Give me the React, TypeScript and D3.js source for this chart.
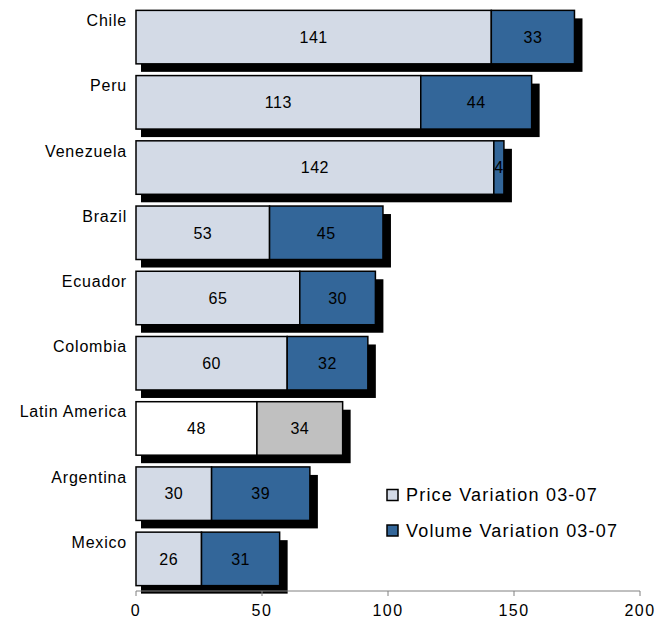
import React from 'react';
import * as d3 from 'd3';

const countries = ['Chile', 'Peru', 'Venezuela', 'Brazil', 'Ecuador', 'Colombia', 'Latin America', 'Argentina', 'Mexico'];
const priceVariation = [141, 113, 142, 53, 65, 60, 48, 30, 26];
const volumeVariation = [33, 44, 4, 45, 30, 32, 34, 39, 31];
const xTicks = [0, 50, 100, 150, 200];
const legendLabels = ['Price Variation 03-07', 'Volume Variation 03-07'];

const W = 664;
const H = 621;
const FONT = '"Liberation Sans", Arial, sans-serif';
const LIGHT = '#D3DAE6';
const DARK = '#336699';

const App = () => {
  const x = d3.scaleLinear().domain([0, 200]).range([136, 640]);
  const y = d3.scaleBand<string>()
    .domain(countries)
    .range([4.5, 591.5])
    .paddingInner(0.18)
    .paddingOuter(0.09);
  const bh = y.bandwidth();
  const axisY = 591;

  return (
    <svg width={W} height={H} style={{ position: 'absolute', left: 0, top: 0, fontFamily: FONT }}>
      <rect width={W} height={H} fill="#fff" />
      {/* shadows first */}
      {countries.map((c, i) => {
        const x0 = x(0);
        const x1 = x(priceVariation[i] + volumeVariation[i]);
        const y0 = y(c)!;
        return <rect key={'s' + c} x={x0 + 5} y={y0 + 8} width={x1 - x0 + 3} height={bh} fill="#000" />;
      })}
      {countries.map((c, i) => {
        const isLA = c === 'Latin America';
        const y0 = y(c)!;
        const p0 = x(0);
        const p1 = x(priceVariation[i]);
        const v1 = x(priceVariation[i] + volumeVariation[i]);
        return (
          <g key={c}>
            <rect x={p0} y={y0} width={p1 - p0} height={bh} fill={isLA ? '#fff' : LIGHT} stroke="#000" strokeWidth={1.5} />
            <rect x={p1} y={y0} width={v1 - p1} height={bh} fill={isLA ? '#C0C0C0' : DARK} stroke="#000" strokeWidth={1.5} />
            <text x={(p0 + p1) / 2} y={y0 + bh / 2} dy="0.36em" textAnchor="middle" fontSize={16} letterSpacing={0.5} fill="#000">
              {priceVariation[i]}
            </text>
            <text x={(p1 + v1) / 2} y={y0 + bh / 2} dy="0.36em" textAnchor="middle" fontSize={16} letterSpacing={0.5} fill="#000">
              {volumeVariation[i]}
            </text>
            <text x={127} y={y0 + 10} dy="0.36em" textAnchor="end" fontSize={16} letterSpacing={0.8} fill="#000">
              {c}
            </text>
          </g>
        );
      })}
      {/* axis */}
      <line x1={x(0)} x2={x(200)} y1={axisY} y2={axisY} stroke="#808080" strokeWidth={1} />
      {xTicks.map(t => (
        <g key={t}>
          <line x1={x(t)} x2={x(t)} y1={axisY} y2={axisY + 5} stroke="#808080" strokeWidth={1} />
          <text x={x(t)} y={610} dy="0.36em" textAnchor="middle" fontSize={16} letterSpacing={1.5} fill="#000">{t}</text>
        </g>
      ))}
      {/* legend */}
      {legendLabels.map((l, i) => (
        <g key={l} transform={`translate(387, ${489.5 + i * 35.5})`}>
          <rect x={0} y={0} width={11} height={11} fill={i === 0 ? LIGHT : DARK} stroke="#000" strokeWidth={1.5} />
          <text x={19} y={5.5} dy="0.36em" fontSize={18} letterSpacing={1.2} fill="#000">{l}</text>
        </g>
      ))}
    </svg>
  );
};

export default App;
